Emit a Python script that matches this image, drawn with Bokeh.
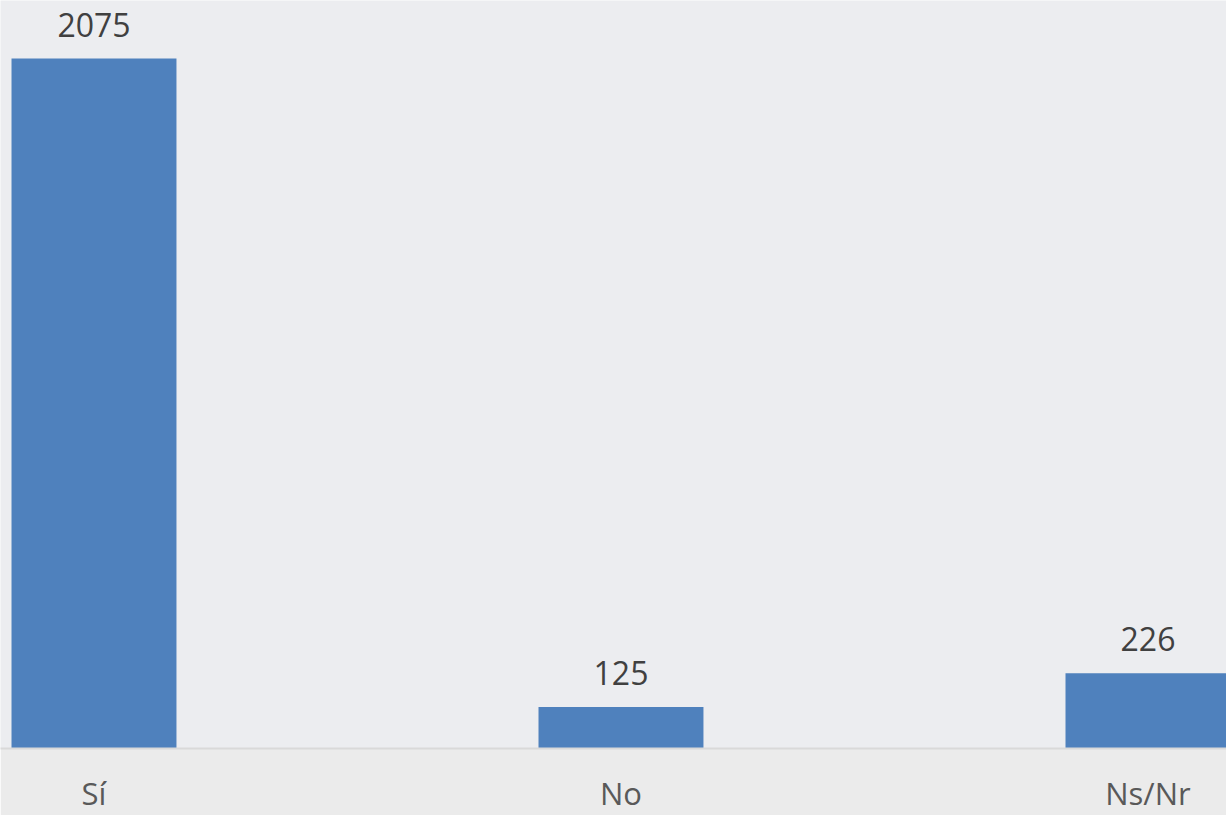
from bokeh.plotting import figure
from bokeh.models import FixedTicker, Range1d, ColumnDataSource
from bokeh.core.properties import value
from bokeh.embed import file_html
from bokeh.resources import INLINE

categories = ["Sí", "No", "Ns/Nr"]
counts = [2075, 125, 226]
positions = [0, 1, 2]

FONT = "Open Sans"

p = figure(frame_width=1226, frame_height=748, output_backend="svg",
           toolbar_location=None, min_border=0,
           x_range=Range1d(-0.1774, 2.149), y_range=Range1d(0, 2249.6))

p.background_fill_color = "#ECEDF0"
p.border_fill_color = "#EBEBEB"
p.outline_line_color = None
p.grid.visible = False
p.yaxis.visible = False

src = ColumnDataSource(dict(x=positions, top=counts,
                            label=[str(c) for c in counts]))
p.vbar(x="x", top="top", width=0.313, bottom=0, source=src,
       fill_color="#4F81BD", line_color=None)

p.text(x="x", y="top", text="label", source=src, y_offset=-34,
       text_align="center", text_baseline="alphabetic",
       text_font=value(FONT), text_font_size="32px", text_color="#404040")

ax = p.xaxis[0]
ax.ticker = FixedTicker(ticks=positions)
ax.major_label_overrides = {i: c for i, c in zip(positions, categories)}
ax.major_tick_line_color = None
ax.minor_tick_line_color = None
ax.major_tick_out = 0
ax.major_tick_in = 0
ax.axis_line_color = "#D9D9D9"
ax.axis_line_width = 2
ax.major_label_standoff = 23
ax.major_label_text_font = FONT
ax.major_label_text_font_size = "31px"
ax.major_label_text_color = "#595959"

open("out.html", "w").write(file_html(p, INLINE))
